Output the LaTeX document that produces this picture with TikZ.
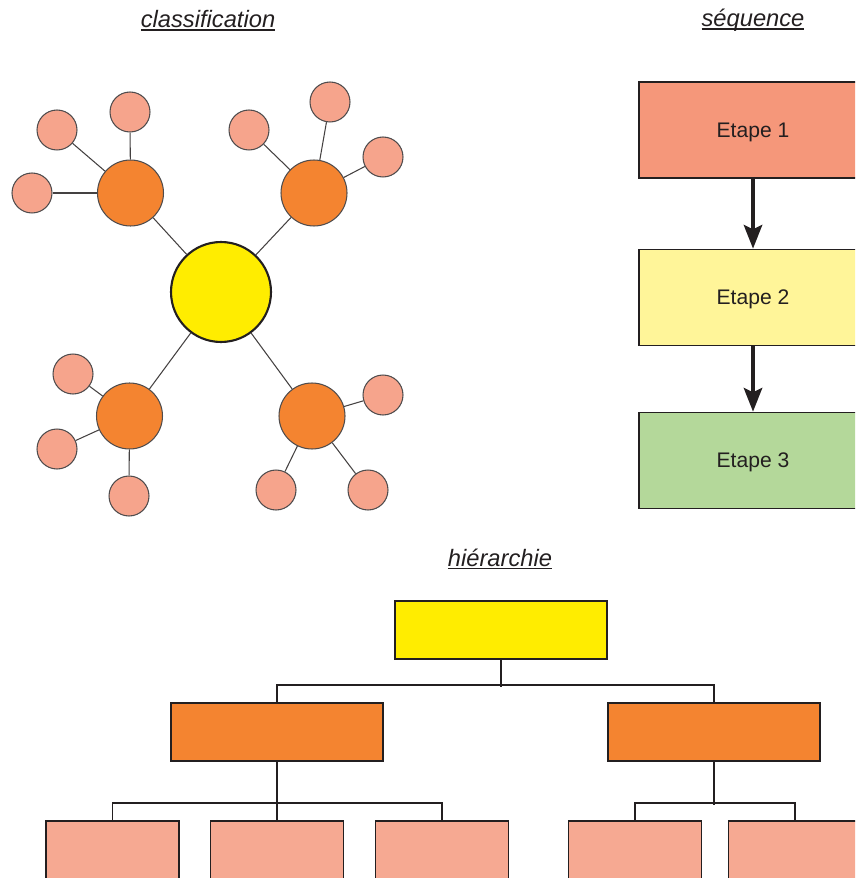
\documentclass[tikz,border=0pt]{standalone}
\usepackage{fontspec}
\setmainfont{Liberation Sans}
\usetikzlibrary{arrows.meta}
\definecolor{trait}{HTML}{231F20}
\definecolor{jaune}{HTML}{FFED00}
\definecolor{orangefonce}{HTML}{F48430}
\definecolor{rose}{HTML}{F6A48C}
\definecolor{saumon}{HTML}{F5977A}
\definecolor{jaunepale}{HTML}{FFF599}
\definecolor{vertpale}{HTML}{B4D89A}
\newcommand\souligne[1]{\setbox0\hbox{#1}\rlap{\rule[-1.8pt]{\wd0}{0.8pt}}\box0}

\begin{document}
\begin{tikzpicture}[x=0.02cm,y=-0.02cm,
		titre/.style={anchor=base,inner sep=0pt,text=trait,font=\fontsize{13.5}{16}\selectfont},
		rond/.style={circle,draw=trait!80,line width=0.6pt,inner sep=0pt},
		branche/.style={rond,fill=orangefonce,minimum size=1.32cm},
		feuille/.style={rond,fill=rose,minimum size=0.8cm},
		lien/.style={draw=trait!85,line width=0.6pt},
		etape/.style={draw=trait,line width=1pt,minimum width=4.56cm,minimum height=1.92cm,text depth=0pt,text=trait,font=\fontsize{12}{14}\selectfont},
		fleche/.style={draw=trait,line width=2pt,-{Stealth[length=13.5pt,width=10.5pt,inset=2.5pt]}},
		boite/.style={draw=trait,line width=1pt,minimum width=4.24cm,minimum height=1.16cm},
		case/.style={draw=trait,line width=1pt,minimum width=2.66cm,minimum height=1.16cm,fill=rose!95!white},
		arbre/.style={draw=trait,line width=1pt}]
	\useasboundingbox (0,0) rectangle (855,878);
	\clip (0,0) rectangle (855,878);

	% classification
	\node[titre] (tclass) at (208,27.5) {\souligne{\textit{classification}}};
	\node[rond,fill=jaune,draw=trait,line width=1.2pt,minimum size=2cm] (centre) at (221,292) {};
	\node[branche] (b1) at (130.5,193) {};
	\node[branche] (b2) at (314,193) {};
	\node[branche] (b3) at (129.5,416) {};
	\node[branche] (b4) at (312,416) {};
	\foreach \b in {b1,b2,b3,b4}
		\draw[lien] (centre) -- (\b);
	\foreach \n/\x/\y/\p in {f1/32/193/b1, f2/57/130/b1, f3/130/112/b1,
			f4/249/130/b2, f5/330/102/b2, f6/383/157/b2,
			f7/73/374/b3, f8/57/449/b3, f9/129/496/b3,
			f10/383/395/b4, f11/276/490/b4, f12/368/490/b4} {
		\node[feuille] (\n) at (\x,\y) {};
		\draw[lien] (\p) -- (\n);
	}

	% sequence
	\node[titre] (tseq) at (753,26.5) {\souligne{\textit{séquence}}};
	\node[etape,fill=saumon] (e1) at (753,130) {Etape 1};
	\node[etape,fill=jaunepale] (e2) at (753,297.5) {Etape 2};
	\node[etape,fill=vertpale] (e3) at (753,460.5) {Etape 3};
	\draw[fleche] (e1) -- (e2);
	\draw[fleche] (e2) -- (e3);

	% hierarchie
	\node[titre] (thier) at (500,566) {\souligne{\textit{hiérarchie}}};
	\node[boite,fill=jaune] (h0) at (501,630) {};
	\node[boite,fill=orangefonce] (h1) at (277,732) {};
	\node[boite,fill=orangefonce] (h2) at (714,732) {};
	\node[case] (h11) at (112.5,850) {};
	\node[case] (h12) at (277,850) {};
	\node[case] (h13) at (442,850) {};
	\node[case] (h21) at (635,850) {};
	\node[case] (h22) at (795,850) {};
	\draw[arbre] (h0.south) -- ++(0,27);
	\draw[arbre] (h1.north) -- ++(0,-17) -| (h2.north);
	\draw[arbre] (h1.south) -- (h12.north);
	\draw[arbre] (h11.north) -- ++(0,-17) -| (h13.north);
	\draw[arbre] (h2.south) -- ++(0,43);
	\draw[arbre] (h21.north) -- ++(0,-17) -| (h22.north);
\end{tikzpicture}
\end{document}
